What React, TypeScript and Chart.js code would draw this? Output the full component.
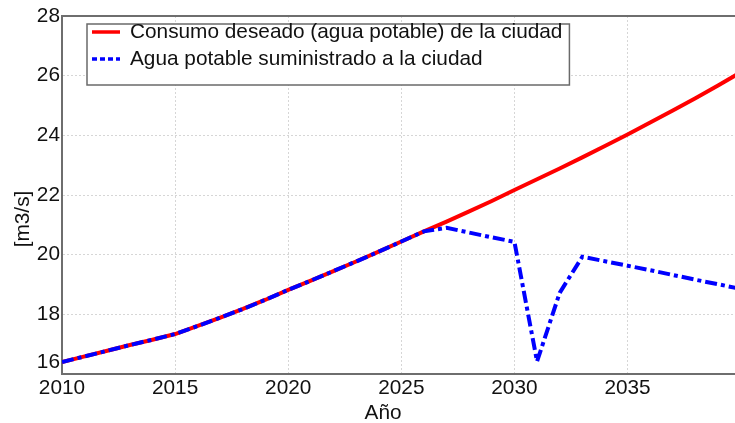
import React, { useEffect, useRef } from "react";
import { Chart, registerables } from "chart.js";

Chart.register(...registerables);

// ---- data ----
const years = [
  2010, 2011, 2012, 2013, 2014, 2015, 2016, 2017, 2018, 2019,
  2020, 2021, 2022, 2023, 2024, 2025, 2026, 2027, 2028, 2029,
  2030, 2031, 2032, 2033, 2034, 2035, 2036, 2037, 2038, 2039, 2040,
];
const consumoDeseado = [
  16.40, 16.59, 16.78, 16.97, 17.15, 17.34, 17.61, 17.89, 18.18, 18.49,
  18.82, 19.13, 19.45, 19.77, 20.10, 20.44, 20.78, 21.11, 21.45, 21.80,
  22.17, 22.53, 22.89, 23.26, 23.64, 24.03, 24.43, 24.83, 25.24, 25.67, 26.11,
];
const aguaSuministrada = [
  16.40, 16.59, 16.78, 16.97, 17.15, 17.34, 17.61, 17.89, 18.18, 18.49,
  18.82, 19.13, 19.45, 19.77, 20.10, 20.44, 20.78, 20.90, 20.74, 20.58,
  20.43, 16.42, 18.72, 19.93, 19.78, 19.63, 19.48, 19.32, 19.16, 19.01, 18.85,
];
const seriesLabels = [
  "Consumo deseado (agua potable) de la ciudad",
  "Agua potable suministrado a la ciudad",
];
const xTicks = [2010, 2015, 2020, 2025, 2030, 2035];
const yTicks = [16, 18, 20, 22, 24, 26, 28];
const xTitle = "Año";
const yTitle = "[m3/s]";
const X_MIN = 2010;
const X_MAX = 2039.75;
const Y_MIN = 16;
const Y_MAX = 28;

const FONT = '20.8px "Liberation Sans", Arial, sans-serif';
const TEXT_COLOR = "#111111";
const AXIS_COLOR = "#6e6e6e";
const GRID_COLOR = "#d6d6d6";
const RED = "#ff0000";
const BLUE = "#0000ff";

const overlayPlugin = {
  id: "overlay",
  afterDraw(chart: any) {
    const { ctx, chartArea: a, scales } = chart;
    const xs = scales.x;
    const ys = scales.y;
    ctx.save();
    // top frame line
    ctx.strokeStyle = AXIS_COLOR;
    ctx.lineWidth = 2;
    ctx.beginPath();
    ctx.moveTo(a.left - 1, a.top);
    ctx.lineTo(a.right, a.top);
    ctx.stroke();

    ctx.font = FONT;
    ctx.fillStyle = TEXT_COLOR;
    ctx.textBaseline = "middle";
    // x tick labels
    ctx.textAlign = "center";
    xTicks.forEach((v) => ctx.fillText(String(v), xs.getPixelForValue(v), a.bottom + 14));
    // y tick labels
    ctx.textAlign = "right";
    yTicks.forEach((v) => {
      let y = ys.getPixelForValue(v);
      if (v === Y_MIN) y -= 12;
      ctx.fillText(String(v), a.left - 2, y);
    });
    // axis titles
    ctx.textAlign = "center";
    ctx.fillText(xTitle, a.left + (a.right - a.left) * 0.477, a.bottom + 39);
    ctx.save();
    ctx.translate(a.left - 39, a.top + (a.bottom - a.top) * 0.567);
    ctx.rotate(-Math.PI / 2);
    ctx.fillText(yTitle, 0, 0);
    ctx.restore();

    // legend
    const bx = a.left + 25;
    const by = a.top + 8;
    const textX = bx + 43;
    const tw = Math.max(...seriesLabels.map((s) => ctx.measureText(s).width));
    const bw = textX - bx + tw + 7;
    const bh = 61;
    ctx.fillStyle = "#ffffff";
    ctx.fillRect(bx, by, bw, bh);
    ctx.strokeStyle = "#6a6a6a";
    ctx.lineWidth = 1.5;
    ctx.strokeRect(bx, by, bw, bh);
    const rows = [by + 8, by + 35];
    const ds = chart.data.datasets;
    seriesLabels.forEach((label, i) => {
      const y = rows[i];
      ctx.strokeStyle = ds[i].borderColor;
      ctx.lineWidth = 3.5;
      ctx.lineCap = "butt";
      ctx.setLineDash(i === 0 ? [] : [5, 3]);
      ctx.beginPath();
      ctx.moveTo(bx + 5, y);
      ctx.lineTo(bx + 33, y);
      ctx.stroke();
      ctx.setLineDash([]);
      ctx.fillStyle = TEXT_COLOR;
      ctx.textAlign = "left";
      ctx.fillText(label, textX, y);
    });
    ctx.restore();
  },
};

export default function App() {
  const canvasRef = useRef<HTMLCanvasElement | null>(null);

  useEffect(() => {
    if (!canvasRef.current) return;
    const chart = new Chart(canvasRef.current, {
      type: "line",
      data: {
        datasets: [
          {
            label: seriesLabels[0],
            data: years.map((x, i) => ({ x, y: consumoDeseado[i] })),
            borderColor: RED,
            borderWidth: 4,
            pointRadius: 0,
            tension: 0,
            fill: false,
            order: 1,
          },
          {
            label: seriesLabels[1],
            data: years.map((x, i) => ({ x, y: aguaSuministrada[i] })),
            borderColor: BLUE,
            borderWidth: 4,
            borderDash: [12, 4, 4, 4],
            borderCapStyle: "butt",
            pointRadius: 0,
            tension: 0,
            fill: false,
            order: 0,
          },
        ],
      },
      options: {
        responsive: false,
        animation: false,
        layout: { padding: { left: 62, top: 16, right: 0, bottom: 49 } },
        plugins: {
          legend: { display: false },
          tooltip: { enabled: false },
          title: { display: false },
        },
        scales: {
          x: {
            type: "linear",
            min: X_MIN,
            max: X_MAX,
            afterBuildTicks: (scale: any) => {
              scale.ticks = xTicks.map((value) => ({ value }));
            },
            ticks: { display: false },
            grid: { color: GRID_COLOR, lineWidth: 1, drawTicks: false },
            border: { display: true, color: AXIS_COLOR, width: 2, dash: [2, 2] },
          },
          y: {
            type: "linear",
            min: Y_MIN,
            max: Y_MAX,
            afterBuildTicks: (scale: any) => {
              scale.ticks = yTicks.map((value) => ({ value }));
            },
            ticks: { display: false },
            grid: { color: GRID_COLOR, lineWidth: 1, drawTicks: false },
            border: { display: true, color: AXIS_COLOR, width: 2, dash: [2, 2] },
          },
        },
      },
      plugins: [overlayPlugin],
    } as any);
    return () => chart.destroy();
  }, []);

  return (
    <div style={{ position: "fixed", left: 0, top: 0, width: 735, height: 423, background: "#fff" }}>
      <canvas ref={canvasRef} width={735} height={423} style={{ display: "block" }} />
    </div>
  );
}
